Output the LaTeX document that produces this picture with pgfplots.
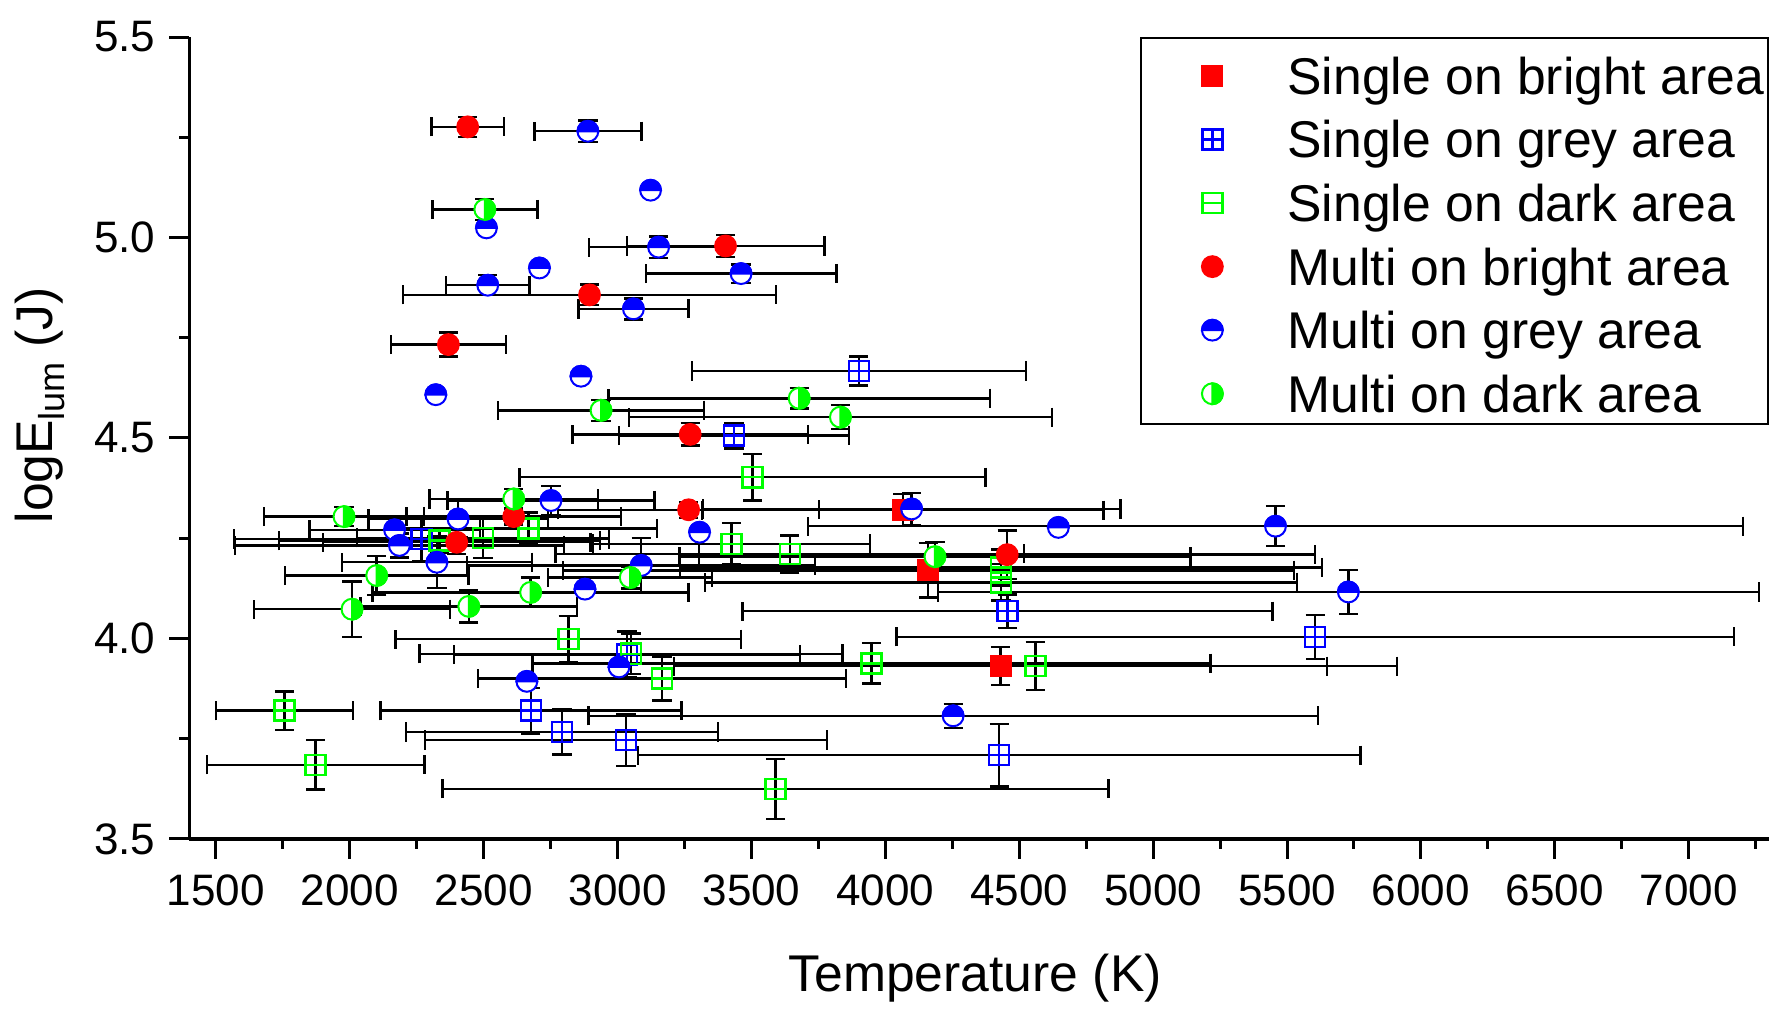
\documentclass[border=0pt]{standalone}
\usepackage{fontspec}
\setmainfont{Liberation Sans}
\usepackage{pgfplots}
\pgfplotsset{compat=1.18}

\pgfdeclareplotmark{halfupblue}{%
  \pgfsetfillcolor{white}\pgfsetstrokecolor{blue}%
  \pgfpathcircle{\pgfpointorigin}{\pgfplotmarksize}\pgfusepathqfillstroke
  \pgfsetfillcolor{blue}%
  \pgfpathmoveto{\pgfpoint{\pgfplotmarksize}{0pt}}%
  \pgfpatharc{0}{180}{\pgfplotmarksize}\pgfpathclose\pgfusepathqfillstroke}
\pgfdeclareplotmark{halfrightgreen}{%
  \pgfsetfillcolor{white}\pgfsetstrokecolor{green}%
  \pgfpathcircle{\pgfpointorigin}{\pgfplotmarksize}\pgfusepathqfillstroke
  \pgfsetfillcolor{green}%
  \pgfpathmoveto{\pgfpoint{0pt}{-\pgfplotmarksize}}%
  \pgfpatharc{-90}{90}{\pgfplotmarksize}\pgfpathclose\pgfusepathqfillstroke}
\pgfdeclareplotmark{sqplusblue}{%
  \pgfsetstrokecolor{blue}%
  \pgfpathrectangle{\pgfpoint{-\pgfplotmarksize}{-\pgfplotmarksize}}{\pgfpoint{2\pgfplotmarksize}{2\pgfplotmarksize}}%
  \pgfpathmoveto{\pgfpoint{-\pgfplotmarksize}{0pt}}\pgfpathlineto{\pgfpoint{\pgfplotmarksize}{0pt}}%
  \pgfpathmoveto{\pgfpoint{0pt}{-\pgfplotmarksize}}\pgfpathlineto{\pgfpoint{0pt}{\pgfplotmarksize}}%
  \pgfusepathqstroke}
\pgfdeclareplotmark{sqminusgreen}{%
  \pgfsetstrokecolor{green}%
  \pgfpathrectangle{\pgfpoint{-\pgfplotmarksize}{-\pgfplotmarksize}}{\pgfpoint{2\pgfplotmarksize}{2\pgfplotmarksize}}%
  \pgfpathmoveto{\pgfpoint{-\pgfplotmarksize}{0pt}}\pgfpathlineto{\pgfpoint{\pgfplotmarksize}{0pt}}%
  \pgfusepathqstroke}

\pgfplotsset{
  myerr/.style={error bars/.cd, x dir=both, x explicit, y dir=both, y explicit,
    error bar style={black, line width=0.6pt},
    error mark options={black, line width=0.6pt, mark size=2.4pt, rotate=90}},
}

\begin{document}
\begin{tikzpicture}
\begin{axis}[
  scale only axis, width=394.5pt, height=200.25pt,
  xmin=1400, xmax=7300, ymin=3.5, ymax=5.5,
  axis x line=bottom, axis y line=left,
  axis line style={-, line width=0.85pt},
  tick align=outside,
  major tick length=5pt, minor tick length=2.5pt,
  tick style={black, line width=0.75pt},
  xtick={1500,2000,...,7000},
  minor xtick={1750,2250,...,7250},
  ytick={3.5,4.0,4.5,5.0,5.5},
  minor ytick={3.75,4.25,4.75,5.25},
  /pgf/number format/assume math mode=true,
  /pgf/number format/1000 sep={},
  tick label style={font=\fontsize{11}{13}\selectfont},
  xticklabel style={anchor=base, yshift=-11.7pt},
  yticklabel style={anchor=east, inner sep=0pt, xshift=-3.25pt, /pgf/number format/.cd, fixed, fixed zerofill, precision=1},
  xlabel={Temperature (K)},
  ylabel={logE\raisebox{-3pt}{\fontsize{9}{9}\selectfont lum} (J)},
  label style={font=\fontsize{12.9}{15}\selectfont},
  xlabel style={at={(axis description cs:0.4975,-0.1898)}, anchor=base},
  ylabel style={at={(axis description cs:-0.0868,0.5406)}, anchor=base},
  legend cell align=left,
  legend style={at={(1,1)}, anchor=north east, draw=black, line width=0.4pt,
    font=\fontsize{12.9}{15}\selectfont, inner xsep=1pt, inner ysep=1pt,
    row sep=0.875pt, nodes={inner sep=0pt, text height=13.1pt, text depth=1.9pt},
    /tikz/every odd column/.append style={column sep=10.2pt}},
  legend image code/.code={\draw[#1] plot coordinates {(16.75pt,-1pt)}; \path[draw=none,fill=none] (0pt,0pt) rectangle (25.3pt,0pt);},
]
% Single on bright area
\addplot[only marks, mark=square*, mark size=2.5pt, mark options={fill=red, draw=red, line width=0.5pt}, myerr]
  table[x=x, y=y, x error=ex, y error=ey] {
x y ex ey
4065 4.320 750 0.040
4160 4.170 1365 0.068
4430 3.931 1219 0.047
};
\addlegendentry{Single on bright area}
% Single on grey area
\addplot[only marks, mark=sqplusblue, mark size=2.5pt, mark options={draw=blue, line width=0.6pt}, myerr]
  table[x=x, y=y, x error=ex, y error=ey] {
x y ex ey
3901 4.667 624 0.036
3435 4.506 430 0.032
2267 4.248 700 0.055
4456 4.068 990 0.042
5605 4.004 1564 0.055
3035 3.960 645 0.057
2676 3.820 562 0.057
2792 3.767 582 0.056
3031 3.747 750 0.065
4425 3.709 1350 0.078
};
\addlegendentry{Single on grey area}
% Single on dark area
\addplot[only marks, mark=sqminusgreen, mark size=2.5pt, mark options={draw=green, line width=0.6pt}, myerr]
  table[x=x, y=y, x error=ex, y error=ey] {
x y ex ey
3504 4.402 870 0.058
2497 4.251 470 0.050
2335 4.244 600 0.030
2667 4.274 480 0.040
3425 4.236 518 0.052
3643 4.211 875 0.046
4432 4.177 1198 0.045
4432 4.140 1105 0.045
2816 3.998 645 0.058
3050 3.962 790 0.050
3166 3.900 688 0.055
3948 3.938 1266 0.050
4560 3.931 1350 0.060
1756 3.820 255 0.048
1872 3.685 406 0.062
3590 3.625 1244 0.075
};
\addlegendentry{Single on dark area}
% Multi on bright area
\addplot[only marks, mark=*, mark size=2.6pt, mark options={fill=red, draw=red, line width=0.5pt}, myerr]
  table[x=x, y=y, x error=ex, y error=ey] {
x y ex ey
2440 5.276 135 0.025
3403 4.979 369 0.027
2895 4.857 697 0.026
2368 4.733 215 0.030
3271 4.509 440 0.028
3265 4.321 487 0.020
2612 4.304 400 0.020
2399 4.240 500 0.030
4455 4.209 1150 0.060
};
\addlegendentry{Multi on bright area}
% Multi on grey area
\addplot[only marks, mark=halfupblue, mark size=2.6pt, mark options={line width=0.5pt}, myerr]
  table[x=x, y=y, x error=ex, y error=ey] {
x y ex ey
2889 5.265 200 0.027
3153 4.976 261 0.027
3461 4.910 356 0.023
2515 4.881 156 0.025
3059 4.822 205 0.026
2751 4.344 386 0.036
2404 4.298 335 0.045
2167 4.271 318 0.030
2185 4.232 614 0.030
2325 4.190 355 0.064
3088 4.182 650 0.068
4098 4.323 780 0.040
5457 4.280 1746 0.050
5729 4.116 1533 0.055
4253 3.807 1362 0.030
};
\addlegendentry{Multi on grey area}
\addplot[only marks, mark=halfupblue, mark size=2.6pt, mark options={line width=0.5pt}, forget plot]
  table[x=x, y=y] {
x y
3123 5.118
2510 5.024
2708 4.924
2863 4.654
2321 4.608
3306 4.265
4646 4.277
2878 4.123
3005 3.929
2661 3.893
};
% Multi on dark area
\addplot[only marks, mark=halfrightgreen, mark size=2.6pt, mark options={line width=0.5pt}, myerr]
  table[x=x, y=y, x error=ex, y error=ey] {
x y ex ey
2504 5.070 196 0.026
3678 4.599 712 0.025
2938 4.569 385 0.026
3832 4.552 790 0.030
1978 4.304 298 0.024
2612 4.348 315 0.025
2100 4.157 343 0.048
2008 4.073 366 0.069
2444 4.080 405 0.040
2675 4.115 590 0.037
3047 4.152 306 0.027
4185 4.204 954 0.036
};
\addlegendentry{Multi on dark area}
\end{axis}
\pgfresetboundingbox
\path ([shift={(-47.25pt,-42.25pt)}]current axis.south west) rectangle ([shift={(0.5pt,9.25pt)}]current axis.north east);
\end{tikzpicture}
\end{document}
